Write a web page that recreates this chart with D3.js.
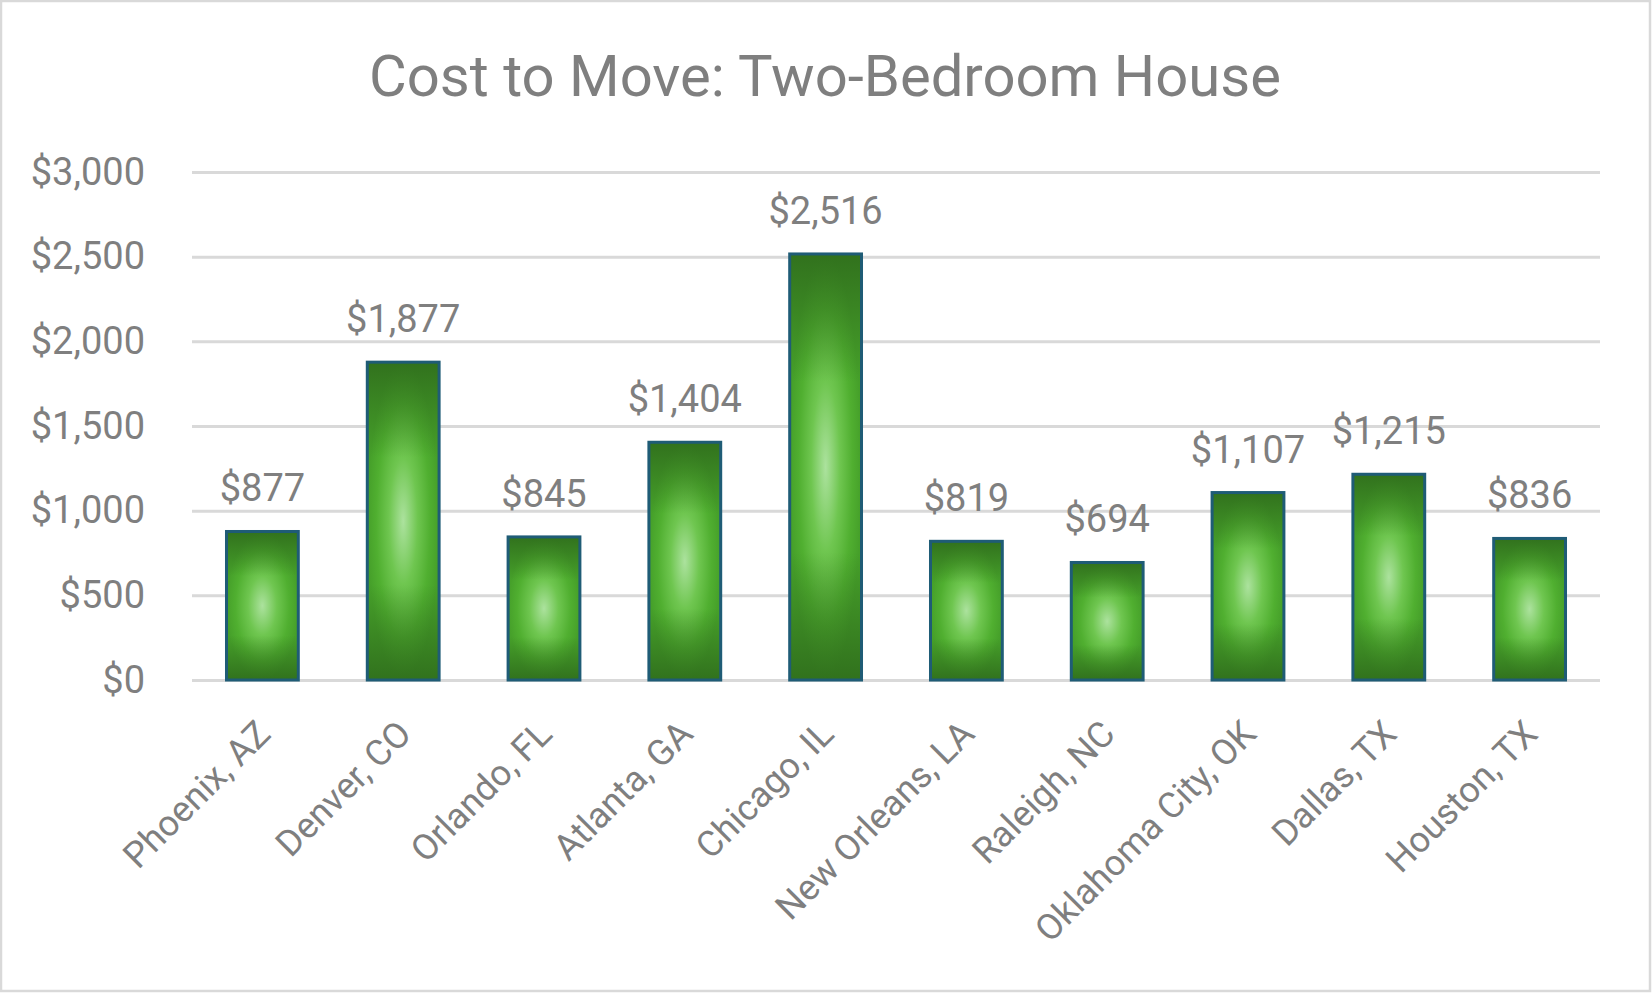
<!DOCTYPE html>
<html>
<head>
<meta charset="utf-8">
<script src="https://d3js.org/d3.v7.min.js"></script>
<style>
  body { margin: 0; background: #fff; }
  text { font-family: Roboto, "Open Sans", sans-serif; fill: #7f7f7f; }
</style>
</head>
<body>
<div id="chart"></div>
<script>
// data
var cities = ["Phoenix, AZ", "Denver, CO", "Orlando, FL", "Atlanta, GA", "Chicago, IL",
  "New Orleans, LA", "Raleigh, NC", "Oklahoma City, OK", "Dallas, TX", "Houston, TX"];
var costs = [877, 1877, 845, 1404, 2516, 819, 694, 1107, 1215, 836];
var yTicks = [0, 500, 1000, 1500, 2000, 2500, 3000];
var chartTitle = "Cost to Move: Two-Bedroom House";

var svgWidth = 1652;
var svgHeight = 993;

var plot = { left: 192, right: 1600, top: 172, bottom: 680 };

var svg = d3.select("#chart").append("svg")
    .attr("width", svgWidth)
    .attr("height", svgHeight);

// outer frame
svg.append("rect")
    .attr("x", 1).attr("y", 1)
    .attr("width", svgWidth - 3).attr("height", svgHeight - 3)
    .attr("fill", "#fff")
    .attr("stroke", "#d9d9d9")
    .attr("stroke-width", 2.5);

var defs = svg.append("defs");

// bar fill: light centre fading to green
var grad = defs.append("radialGradient")
    .attr("id", "barFill")
    .attr("cx", "50%").attr("cy", "50%").attr("r", "50%");
grad.append("stop").attr("offset", "0%").attr("stop-color", "#ace29e");
grad.append("stop").attr("offset", "40%").attr("stop-color", "#6fc650");
grad.append("stop").attr("offset", "75%").attr("stop-color", "#50af30");
grad.append("stop").attr("offset", "100%").attr("stop-color", "#46a02a");

// darker top and bottom
var shade = defs.append("linearGradient")
    .attr("id", "barShade")
    .attr("x1", 0).attr("y1", 0).attr("x2", 0).attr("y2", 1);
shade.append("stop").attr("offset", "0%").attr("stop-color", "#2c661a").attr("stop-opacity", 0.8);
shade.append("stop").attr("offset", "30%").attr("stop-color", "#2c661a").attr("stop-opacity", 0);
shade.append("stop").attr("offset", "70%").attr("stop-color", "#2c661a").attr("stop-opacity", 0);
shade.append("stop").attr("offset", "100%").attr("stop-color", "#2c661a").attr("stop-opacity", 0.8);

var x = d3.scaleBand()
    .domain(cities)
    .range([plot.left, plot.right])
    .paddingInner(0.49)
    .paddingOuter(0.245);

var y = d3.scaleLinear()
    .domain([0, 3000])
    .range([plot.bottom, plot.top]);

// title
svg.append("text")
    .attr("x", 825)
    .attr("y", 96)
    .attr("text-anchor", "middle")
    .style("font-size", "58px")
    .text(chartTitle);

// gridlines + y labels
var yAxis = d3.axisLeft(y)
    .tickValues(yTicks)
    .tickSize(-(plot.right - plot.left))
    .tickPadding(47)
    .tickFormat(function(d) { return "$" + d3.format(",")(d); });

var yG = svg.append("g")
    .attr("transform", `translate(${plot.left},0)`)
    .call(yAxis);
yG.select(".domain").remove();
yG.selectAll(".tick line")
    .attr("stroke", "#d9d9d9")
    .attr("stroke-width", 3);
yG.selectAll(".tick text")
    .attr("fill", "#7f7f7f")
    .style("font-size", "38px")
    .style("font-family", "Roboto, sans-serif");

// bars
var bars = svg.selectAll(".bar")
    .data(costs)
    .enter().append("g")
    .attr("class", "bar");

bars.append("rect")
    .attr("x", (d, i) => x(cities[i]))
    .attr("y", d => y(d))
    .attr("width", x.bandwidth())
    .attr("height", d => y(0) - y(d))
    .attr("fill", "url(#barFill)");

bars.append("rect")
    .attr("x", (d, i) => x(cities[i]))
    .attr("y", d => y(d))
    .attr("width", x.bandwidth())
    .attr("height", d => y(0) - y(d))
    .attr("fill", "url(#barShade)")
    .attr("stroke", "#1f5c76")
    .attr("stroke-width", 3);

// value labels
svg.selectAll(".val")
    .data(costs)
    .enter().append("text")
    .attr("class", "val")
    .attr("x", (d, i) => x(cities[i]) + x.bandwidth() / 2)
    .attr("y", d => y(d) - 30)
    .attr("text-anchor", "middle")
    .style("font-size", "38px")
    .text(d => "$" + d3.format(",")(d));

// category labels, rotated
var xAxis = d3.axisBottom(x).tickSize(0).tickPadding(0);
var xG = svg.append("g")
    .attr("transform", `translate(0,${plot.bottom})`)
    .call(xAxis);
xG.select(".domain").remove();
xG.selectAll(".tick text")
    .attr("fill", "#7f7f7f")
    .style("font-size", "36px")
    .style("font-family", "Roboto, sans-serif")
    .attr("text-anchor", "end")
    .attr("dy", 0)
    .attr("transform", "translate(10,56) rotate(-45)");
</script>
</body>
</html>
